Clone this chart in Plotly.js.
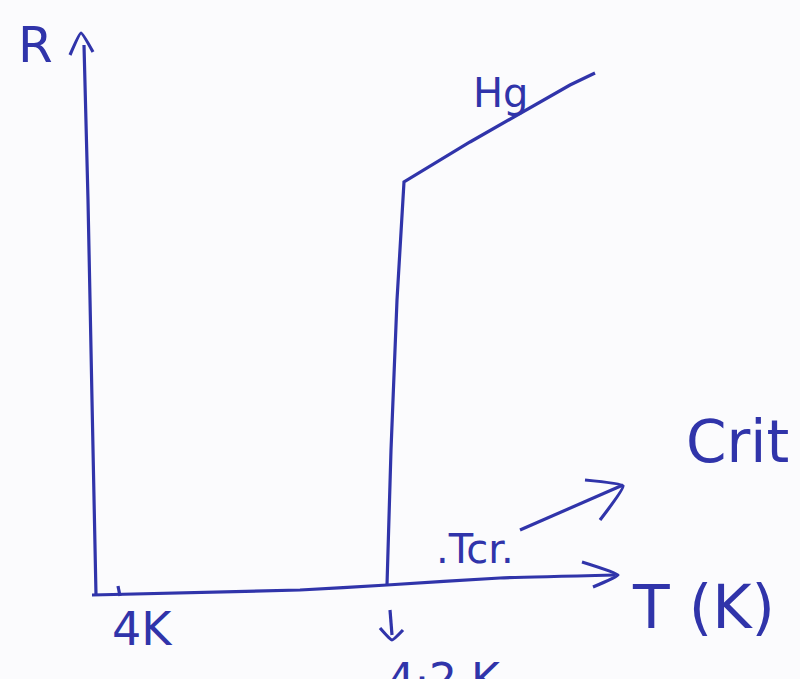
<!DOCTYPE html>
<html>
<head>
<meta charset="utf-8">
<script src="https://cdn.plot.ly/plotly-3.0.1.min.js"></script>
<style>html,body{margin:0;padding:0;background:#fbfbfd;}#chart{width:800px;height:679px;}</style>
</head>
<body>
<div id="chart"></div>
<script>
// Sketch units: origin at axes corner, T to the right, R upward
// Hg resistance curve (superconducting drop at Tc)
const hgT = [292, 296, 302, 309, 375, 435, 475, 500];
const hgR = [10, 145, 295, 413, 453, 487, 510, 522];
// Hand-drawn axes
const rAxisT = [1, -3, -7, -11];
const rAxisR = [0, 195, 395, 550];
const rHeadT = [-25, -14, -2];
const rHeadR = [540, 562, 543];
const tAxisT = [-3, 205, 292, 405, 520];
const tAxisR = [0, 5, 10, 17, 20];
const tHeadT = [487, 523, 498];
const tHeadR = [33, 20, 8];
// "Critical" pointer arrow
const critT = [425, 528];
const critR = [65, 110];
const critHeadT = [490, 528, 505];
const critHeadR = [115, 109, 75];
// 4 K tick and Tc down-arrow
const tickT = [23, 25];
const tickR = [9, -1];
const downT = [295, 297];
const downR = [-15, -40];
const downHeadT = [285, 297, 308];
const downHeadR = [-33, -45, -35];
// Labels
const labels = [
  {text: "R", t: -60, r: 550, size: 50},
  {text: "Hg", t: 405, r: 502, size: 40},
  {text: ".Tcr.", t: 380, r: 46, size: 40},
  {text: "T (K)", t: 608, r: -12, size: 60},
  {text: "4K", t: 47, r: -34, size: 46}
];

const pen = "rgb(48,52,170)";
const line = (x, y) => ({x, y, type: "scatter", mode: "lines", hoverinfo: "skip",
  line: {color: pen, width: 3.2, shape: "spline", smoothing: 0.4}, showlegend: false});

const traces = [
  line(rAxisT, rAxisR), line(rHeadT, rHeadR),
  line(tAxisT, tAxisR), line(tHeadT, tHeadR),
  line(hgT, hgR),
  line(critT, critR), line(critHeadT, critHeadR),
  line(tickT, tickR), line(downT, downR), line(downHeadT, downHeadR)
];
traces[4].line.shape = "linear";

const font = "DejaVu Sans, Liberation Sans, sans-serif";
const annotations = labels.map(l => ({
  x: l.t, y: l.r, xref: "x", yref: "y", text: l.text, showarrow: false,
  font: {family: font, size: l.size, color: pen}
}));
annotations.push({x: 589, y: 153, xref: "x", yref: "y", text: "Crit", showarrow: false,
  xanchor: "left", font: {family: font, size: 58, color: pen}});
annotations.push({x: 408, y: -84, xref: "x", yref: "y", text: "4·2 K", showarrow: false,
  xanchor: "right", yanchor: "middle", font: {family: font, size: 44, color: pen}});

const layout = {
  width: 800, height: 679,
  margin: {l: 0, r: 0, t: 0, b: 0},
  paper_bgcolor: "#fbfbfd", plot_bgcolor: "#fbfbfd",
  xaxis: {range: [-95, 705], visible: false, fixedrange: true},
  yaxis: {range: [-84, 595], visible: false, fixedrange: true},
  annotations,
  showlegend: false
};
Plotly.newPlot("chart", traces, layout, {displayModeBar: false, staticPlot: true});
</script>
</body>
</html>
